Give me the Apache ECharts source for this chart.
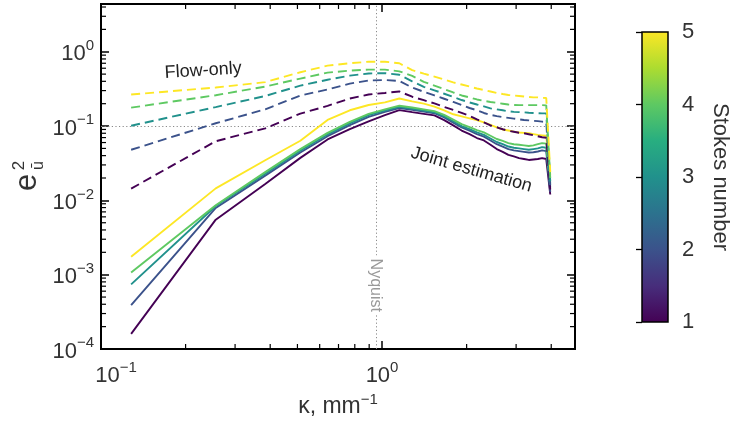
<!DOCTYPE html>
<html>
<head>
<meta charset="utf-8">
<script src="https://cdn.jsdelivr.net/npm/echarts@6/dist/echarts.min.js"></script>
<style>
  html, body { margin: 0; padding: 0; background: #fff; }
  #chart { width: 733px; height: 423px; }
</style>
</head>
<body>
<div id="chart"></div>
<script>
// Wavenumber samples (mm^-1)
const kappa = [0.128, 0.256, 0.384, 0.512, 0.64, 0.768, 0.896, 1.024, 1.152, 1.28,
  1.408, 1.536, 1.664, 1.792, 1.92, 2.048, 2.176, 2.304, 2.432, 2.56,
  2.688, 2.816, 2.944, 3.072, 3.2, 3.328, 3.456, 3.584, 3.712, 3.84, 3.968];

const stokesNumbers = [1, 2, 3, 4, 5];

// Joint estimation error spectra, one per Stokes number
const jointSt1 = [0.00016, 0.0055, 0.0166, 0.0373, 0.066, 0.091, 0.116, 0.140, 0.164, 0.154, 0.146, 0.139, 0.120, 0.102, 0.087, 0.078, 0.069, 0.064, 0.056, 0.049, 0.045, 0.041, 0.039, 0.037, 0.036, 0.035, 0.0355, 0.036, 0.037, 0.036, 0.012];
const jointSt2 = [0.00039, 0.0079, 0.0215, 0.044, 0.073, 0.103, 0.133, 0.155, 0.175, 0.166, 0.157, 0.149, 0.131, 0.111, 0.096, 0.087, 0.078, 0.072, 0.064, 0.057, 0.053, 0.049, 0.047, 0.046, 0.045, 0.044, 0.0445, 0.0455, 0.047, 0.046, 0.013];
const jointSt3 = [0.00074, 0.0084, 0.0228, 0.0465, 0.077, 0.109, 0.140, 0.162, 0.181, 0.171, 0.162, 0.153, 0.135, 0.116, 0.100, 0.091, 0.082, 0.076, 0.068, 0.061, 0.057, 0.053, 0.051, 0.050, 0.049, 0.048, 0.049, 0.050, 0.052, 0.051, 0.015];
const jointSt4 = [0.00107, 0.0086, 0.0240, 0.049, 0.081, 0.114, 0.146, 0.168, 0.188, 0.178, 0.168, 0.159, 0.141, 0.122, 0.106, 0.097, 0.088, 0.082, 0.074, 0.067, 0.063, 0.059, 0.057, 0.056, 0.055, 0.054, 0.055, 0.057, 0.059, 0.058, 0.017];
const jointSt5 = [0.00174, 0.0145, 0.0347, 0.0635, 0.121, 0.163, 0.192, 0.208, 0.235, 0.215, 0.200, 0.183, 0.162, 0.144, 0.135, 0.127, 0.120, 0.112, 0.104, 0.096, 0.090, 0.087, 0.084, 0.082, 0.081, 0.080, 0.078, 0.076, 0.075, 0.074, 0.022];

// Flow-only error spectra, one per Stokes number
const flowSt1 = [0.0144, 0.0625, 0.093, 0.147, 0.187, 0.235, 0.266, 0.279, 0.292, 0.248, 0.223, 0.2015, 0.181, 0.165, 0.150, 0.137, 0.123, 0.112, 0.102, 0.096, 0.0905, 0.0864, 0.0838, 0.0812, 0.080, 0.0776, 0.0752, 0.073, 0.0708, 0.0697, 0.014];
const flowSt2 = [0.048, 0.109, 0.168, 0.258, 0.31, 0.373, 0.41, 0.416, 0.405, 0.33, 0.289, 0.259, 0.233, 0.211, 0.192, 0.175, 0.163, 0.150, 0.1415, 0.136, 0.132, 0.129, 0.126, 0.123, 0.1205, 0.1194, 0.1175, 0.1165, 0.1147, 0.114, 0.016];
const flowSt3 = [0.101, 0.18, 0.254, 0.35, 0.42, 0.477, 0.51, 0.515, 0.49, 0.40, 0.337, 0.303, 0.272, 0.246, 0.224, 0.208, 0.195, 0.184, 0.173, 0.168, 0.163, 0.158, 0.155, 0.154, 0.153, 0.151, 0.150, 0.149, 0.148, 0.148, 0.018];
const flowSt4 = [0.177, 0.26, 0.34, 0.435, 0.523, 0.558, 0.575, 0.575, 0.545, 0.473, 0.393, 0.351, 0.315, 0.283, 0.258, 0.243, 0.228, 0.218, 0.211, 0.205, 0.200, 0.195, 0.192, 0.191, 0.191, 0.191, 0.191, 0.191, 0.191, 0.190, 0.020];
const flowSt5 = [0.266, 0.33, 0.39, 0.53, 0.65, 0.70, 0.734, 0.734, 0.70, 0.566, 0.508, 0.463, 0.422, 0.387, 0.362, 0.340, 0.320, 0.306, 0.292, 0.279, 0.270, 0.262, 0.258, 0.254, 0.250, 0.246, 0.243, 0.243, 0.240, 0.239, 0.024];

const jointSeries = [jointSt1, jointSt2, jointSt3, jointSt4, jointSt5];
const flowSeries = [flowSt1, flowSt2, flowSt3, flowSt4, flowSt5];

// Reference levels
const nyquist = 0.95;
const unitError = 0.1;

// Minor tick values for the log axes
const xMinorTicks = [0.2, 0.3, 0.4, 0.5, 0.6, 0.7, 0.8, 0.9, 2, 3, 4];
const yMinorTicks = [2e-4, 3e-4, 4e-4, 5e-4, 6e-4, 7e-4, 8e-4, 9e-4,
  2e-3, 3e-3, 4e-3, 5e-3, 6e-3, 7e-3, 8e-3, 9e-3,
  2e-2, 3e-2, 4e-2, 5e-2, 6e-2, 7e-2, 8e-2, 9e-2,
  0.2, 0.3, 0.4, 0.5, 0.6, 0.7, 0.8, 0.9, 2, 3, 4];

// Axis ranges
const xMin = 0.1, xMax = 4.86;
const yMin = 1e-4, yMax = 4.39;
const stokesMin = 1, stokesMax = 5;

// Viridis samples for each Stokes number and for the colour bar
const stokesColors = ['#440154', '#3b528b', '#21918c', '#5ec962', '#fde725'];
const viridisStops = ['#440154', '#472d7b', '#3b528b', '#2c728e', '#21918c', '#28ae80', '#5ec962', '#addc30', '#fde725'];

const FONT = "'Liberation Sans', Arial, Helvetica, sans-serif";
const TEXT = '#333';

function powerText(v) {
  const e = Math.log10(v);
  const r = Math.round(e);
  if (Math.abs(e - r) > 1e-6) return null;
  return r < 0 ? '\u2212' + (-r) : String(r);
}

const tickRich = {
  p: { width: 30 },
  b: { fontSize: 22, lineHeight: 27, color: TEXT, fontFamily: FONT, verticalAlign: 'bottom' },
  s: { fontSize: 15, lineHeight: 15, color: TEXT, fontFamily: FONT, verticalAlign: 'top' }
};

function xLabel(v) {
  const p = powerText(v);
  if (p === null) return '';
  const pre = Math.round(Math.log10(v)) === -1 ? '{p|}' : '';
  return pre + '{b|10}{s|' + p + '}';
}
function yLabel(v) {
  const p = powerText(v);
  if (p === null) return '';
  return '{b|10}{s|' + p + '}';
}

const majorTick = { show: true, inside: true, length: 8, lineStyle: { color: '#000', width: 1.5 } };

function minorTickX(params, api) {
  const cs = params.coordSys;
  const x = api.coord([api.value(0), 1])[0];
  const yb = cs.y + cs.height, yt = cs.y;
  return { type: 'group', children: [
    { type: 'line', shape: { x1: x, y1: yb, x2: x, y2: yb - 5 }, style: { stroke: '#000', lineWidth: 1.2 } },
    { type: 'line', shape: { x1: x, y1: yt, x2: x, y2: yt + 5 }, style: { stroke: '#000', lineWidth: 1.2 } }
  ]};
}
function minorTickY(params, api) {
  const cs = params.coordSys;
  const y = api.coord([1, api.value(1)])[1];
  const xl = cs.x, xr = cs.x + cs.width;
  return { type: 'group', children: [
    { type: 'line', shape: { x1: xl, y1: y, x2: xl + 5, y2: y }, style: { stroke: '#000', lineWidth: 1.2 } },
    { type: 'line', shape: { x1: xr, y1: y, x2: xr - 5, y2: y }, style: { stroke: '#000', lineWidth: 1.2 } }
  ]};
}

function colorBar(params, api) {
  const cs = params.coordSys;
  const top = api.coord([0, api.value(1)])[1];
  const bottom = api.coord([0, api.value(0)])[1];
  const stops = viridisStops.map((c, i) => ({ offset: 1 - i / (viridisStops.length - 1), color: c }));
  return {
    type: 'rect',
    shape: { x: cs.x, y: top, width: cs.width, height: bottom - top },
    style: { fill: new echarts.graphic.LinearGradient(0, 0, 0, 1, stops.reverse()), stroke: '#000', lineWidth: 1.5 }
  };
}

const lineSeries = [];
stokesNumbers.forEach((st, i) => {
  lineSeries.push({
    name: 'Joint St ' + st, type: 'line', xAxisIndex: 0, yAxisIndex: 0,
    data: kappa.map((k, j) => [k, jointSeries[i][j]]),
    showSymbol: false, symbol: 'none',
    lineStyle: { color: stokesColors[i], width: 1.9 },
    z: 3
  });
});
stokesNumbers.forEach((st, i) => {
  lineSeries.push({
    name: 'Flow-only St ' + st, type: 'line', xAxisIndex: 0, yAxisIndex: 0,
    data: kappa.map((k, j) => [k, flowSeries[i][j]]),
    showSymbol: false, symbol: 'none',
    lineStyle: { color: stokesColors[i], width: 1.9, type: [9, 5] },
    z: 3
  });
});
lineSeries[0].markLine = {
  silent: true, symbol: ['none', 'none'], label: { show: false },
  lineStyle: { color: '#8a8a8a', width: 1, type: [1.2, 2.4] },
  data: [{ xAxis: nyquist }, { yAxis: unitError }],
  z: 1
};

const option = {
  animation: false,
  backgroundColor: '#fff',
  grid: [
    { left: 101, top: 4, width: 474, height: 347, show: true, borderColor: '#000', borderWidth: 2, backgroundColor: 'transparent' },
    { left: 642, top: 32, width: 26, height: 290, show: false }
  ],
  xAxis: [
    { type: 'log', logBase: 10, gridIndex: 0, min: xMin, max: xMax, position: 'bottom',
      axisLine: { show: false }, axisTick: majorTick, splitLine: { show: false },
      axisLabel: { margin: 11, formatter: xLabel, rich: tickRich, showMinLabel: true, showMaxLabel: true },
      name: '{b|\u03ba, mm}{s|\u22121}', nameLocation: 'middle', nameGap: 43,
      nameTextStyle: { rich: {
        b: { fontSize: 23, lineHeight: 26, color: TEXT, fontFamily: FONT, verticalAlign: 'bottom' },
        s: { fontSize: 15, lineHeight: 15, color: TEXT, fontFamily: FONT, verticalAlign: 'top' } } } },
    { type: 'log', logBase: 10, gridIndex: 0, min: xMin, max: xMax, position: 'top',
      axisLine: { show: false }, axisTick: majorTick, splitLine: { show: false }, axisLabel: { show: false } },
    { type: 'value', gridIndex: 1, min: 0, max: 1, show: false }
  ],
  yAxis: [
    { type: 'log', logBase: 10, gridIndex: 0, min: yMin, max: yMax, position: 'left',
      axisLine: { show: false }, axisTick: majorTick, splitLine: { show: false },
      axisLabel: { margin: 7, formatter: yLabel, rich: tickRich, showMinLabel: true, showMaxLabel: true } },
    { type: 'log', logBase: 10, gridIndex: 0, min: yMin, max: yMax, position: 'right',
      axisLine: { show: false }, axisTick: majorTick, splitLine: { show: false }, axisLabel: { show: false } },
    { type: 'value', gridIndex: 1, min: stokesMin, max: stokesMax, interval: 1, position: 'right', z: 5,
      axisLine: { show: false }, splitLine: { show: false },
      axisTick: { show: true, inside: true, length: 6, lineStyle: { color: '#000', width: 1.3 } },
      axisLabel: { margin: 14, fontSize: 22, color: TEXT, fontFamily: FONT },
      name: 'Stokes number', nameLocation: 'middle', nameRotate: -90, nameGap: 41,
      nameTextStyle: { fontSize: 22, color: TEXT, fontFamily: FONT } }
  ],
  series: lineSeries.concat([
    { type: 'custom', name: 'x minor ticks', xAxisIndex: 0, yAxisIndex: 0, silent: true, z: 4,
      renderItem: minorTickX, data: xMinorTicks.map(v => [v, 1]), clip: false },
    { type: 'custom', name: 'y minor ticks', xAxisIndex: 0, yAxisIndex: 0, silent: true, z: 4,
      renderItem: minorTickY, data: yMinorTicks.map(v => [1, v]), clip: false },
    { type: 'custom', name: 'colour bar', xAxisIndex: 2, yAxisIndex: 2, silent: true, z: 1,
      renderItem: colorBar, data: [[stokesMin, stokesMax]], encode: { y: [0, 1] }, clip: false }
  ])
};

const chart = echarts.init(document.getElementById('chart'), null, { renderer: 'canvas' });
chart.setOption(option);

// Annotations anchored in data space
const at = (k, e) => chart.convertToPixel({ seriesIndex: 0 }, [k, e]);
const flowPos = at(0.231, 0.557);
const jointPos = at(2.08, 0.0258);
const nyqPos = at(nyquist, 7.2e-4);

chart.setOption({
  graphic: [
    { type: 'text', x: flowPos[0], y: flowPos[1], rotation: 3.5 * Math.PI / 180, z: 50,
      style: { text: 'Flow-only', fontSize: 18, fontFamily: FONT, fill: '#222', align: 'center', verticalAlign: 'middle' } },
    { type: 'text', x: jointPos[0], y: jointPos[1], rotation: -16 * Math.PI / 180, z: 50,
      style: { text: 'Joint estimation', fontSize: 18, fontFamily: FONT, fill: '#222', align: 'center', verticalAlign: 'middle' } },
    { type: 'text', x: nyqPos[0], y: nyqPos[1], rotation: -Math.PI / 2, z: 50,
      style: { text: 'Nyquist', fontSize: 16, fontFamily: FONT, fill: '#999', align: 'center', verticalAlign: 'middle',
        backgroundColor: '#fff', padding: [1, 3] } },
    { type: 'group', x: 27.5, y: 182.5, rotation: Math.PI / 2, z: 50, children: [
      { type: 'text', x: 0, y: 0, style: { text: 'e', fontSize: 31, fontFamily: FONT, fill: TEXT, align: 'center', verticalAlign: 'middle' } },
      { type: 'text', x: 17, y: -8.5, style: { text: '2', fontSize: 17, fontFamily: FONT, fill: TEXT, align: 'center', verticalAlign: 'middle' } },
      { type: 'text', x: 17, y: 11, style: { text: '\u016b', fontSize: 16, fontFamily: FONT, fill: TEXT, align: 'center', verticalAlign: 'middle' } }
    ]}
  ]
});
</script>
</body>
</html>
